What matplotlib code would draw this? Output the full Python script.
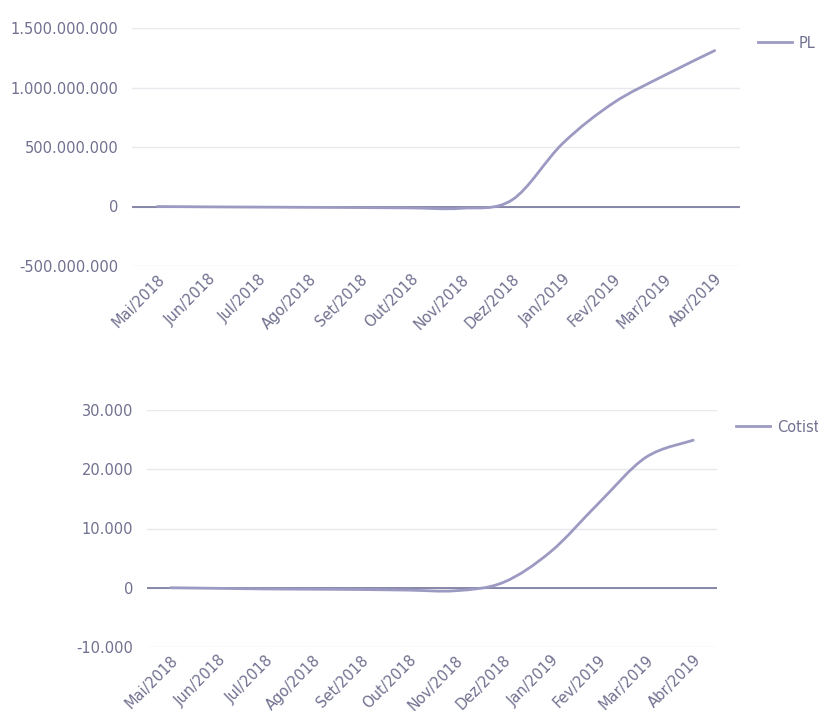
import matplotlib
matplotlib.use("Agg")
import matplotlib.pyplot as plt
from matplotlib.path import Path
from matplotlib.patches import PathPatch
from matplotlib.lines import Line2D
from matplotlib.ticker import FuncFormatter, FixedLocator

months = ["Mai/2018", "Jun/2018", "Jul/2018", "Ago/2018", "Set/2018", "Out/2018",
          "Nov/2018", "Dez/2018", "Jan/2019", "Fev/2019", "Mar/2019", "Abr/2019"]
pl_values = [0, -3e6, -5e6, -7e6, -9e6, -12e6, -15e6, 55e6, 530e6, 870e6, 1.10e9, 1.31e9]
cotistas_values = [0, -100, -200, -250, -300, -400, -500, 900, 6100, 14200, 22000, 24900]
pl_ticks = [-500e6, 0, 500e6, 1000e6, 1500e6]
cot_ticks = [-10000, 0, 10000, 20000, 30000]

LINE_C = "#9c9ac2"
AXIS_C = "#74749a"
TEXT_C = "#707090"
GRID_C = "#e8e8ee"
FS = 10.5

fig = plt.figure(figsize=(8.18, 7.17), dpi=100)
fig.patch.set_facecolor("white")


def fmt(v, pos=None):
    s = f"{abs(v):,.0f}".replace(",", ".")
    return ("-" + s) if v < 0 else s


def smooth_path(xs, ys):
    # Catmull-Rom style Bezier rendering (like a spreadsheet "smoothed line")
    verts = [(xs[0], ys[0])]
    codes = [Path.MOVETO]
    n = len(xs)
    for i in range(n - 1):
        p0 = (xs[i - 1], ys[i - 1]) if i > 0 else (xs[i], ys[i])
        p1 = (xs[i], ys[i])
        p2 = (xs[i + 1], ys[i + 1])
        p3 = (xs[i + 2], ys[i + 2]) if i + 2 < n else (xs[i + 1], ys[i + 1])
        t = 1 / 6
        c1 = (p1[0] + (p2[0] - p0[0]) * t, p1[1] + (p2[1] - p0[1]) * t)
        c2 = (p2[0] - (p3[0] - p1[0]) * t, p2[1] - (p3[1] - p1[1]) * t)
        verts += [c1, c2, p2]
        codes += [Path.CURVE4] * 3
    return Path(verts, codes)


def make_chart(rect, values, ticks, label, legend_anchor):
    ax = fig.add_axes(rect)
    x = list(range(len(months)))
    ax.set_xlim(-0.5, len(months) - 0.5)
    ax.set_ylim(ticks[0], ticks[-1])
    ax.yaxis.set_major_locator(FixedLocator(ticks))
    ax.yaxis.set_major_formatter(FuncFormatter(fmt))
    ax.set_xticks(x)
    ax.set_xticklabels(months, rotation=45, ha="right", rotation_mode="anchor",
                       fontsize=FS, color=TEXT_C)
    ax.tick_params(axis="x", length=0, pad=4)
    ax.tick_params(axis="y", length=0, pad=10, labelsize=FS, labelcolor=TEXT_C)
    for s in ax.spines.values():
        s.set_visible(False)
    ax.grid(axis="y", color=GRID_C, linewidth=1.0)
    ax.set_axisbelow(True)
    ax.axhline(0, color=AXIS_C, linewidth=1.2, zorder=2)
    patch = PathPatch(smooth_path(x, values), facecolor="none", edgecolor=LINE_C,
                      linewidth=2.0, zorder=3, capstyle="round")
    ax.add_patch(patch)
    handle = Line2D([], [], color=LINE_C, linewidth=2.0)
    ax.legend([handle], [label], loc="center left", bbox_to_anchor=legend_anchor,
              bbox_transform=fig.transFigure, frameon=False, fontsize=FS,
              handlelength=2.3, handletextpad=0.5, borderpad=0, borderaxespad=0,
              labelcolor=TEXT_C)
    return ax


make_chart([132 / 818, 1 - 266 / 717, 608 / 818, 238 / 717], pl_values, pl_ticks,
           "PL", (758 / 818, 1 - 43 / 717))
make_chart([147 / 818, 1 - 647 / 717, 570 / 818, 237 / 717], cotistas_values, cot_ticks,
           "Cotistas", (736 / 818, 1 - 427 / 717))

fig.savefig("out.png", dpi=100)
